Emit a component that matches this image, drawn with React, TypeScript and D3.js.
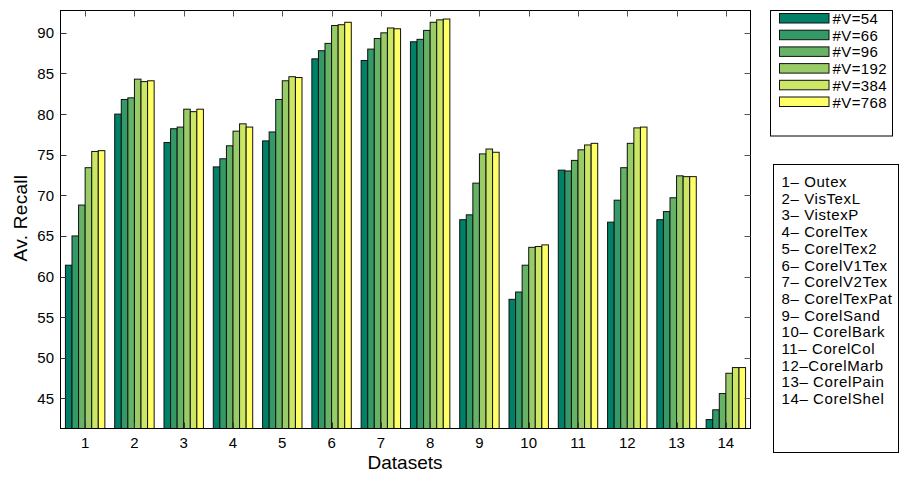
import React, { useEffect, useRef } from 'react';
import * as d3 from 'd3';

// datasets 1..14, six vocabulary sizes each
const datasets = d3.range(1, 15);
const series = ['#V=54', '#V=66', '#V=96', '#V=192', '#V=384', '#V=768'];
const colors = ['#008066', '#339966', '#66b366', '#99cc66', '#cce666', '#ffff66'];

const v54 = [61.4, 80.0, 76.5, 73.5, 76.7, 86.8, 86.6, 88.9, 67.0, 57.2, 73.1, 66.7, 67.0, 42.4];
const v66 = [65.0, 81.8, 78.2, 74.5, 77.8, 87.8, 88.0, 89.2, 67.6, 58.1, 73.0, 69.4, 68.0, 43.6];
const v96 = [68.8, 82.0, 78.4, 76.1, 81.8, 88.7, 89.3, 90.3, 71.5, 61.4, 74.3, 73.4, 69.7, 45.6];
const v192 = [73.4, 84.3, 80.6, 77.9, 84.1, 90.9, 90.0, 91.3, 75.1, 63.6, 75.6, 76.4, 72.4, 48.1];
const v384 = [75.4, 84.0, 80.3, 78.8, 84.6, 91.0, 90.6, 91.6, 75.7, 63.7, 76.2, 78.3, 72.3, 48.8];
const v768 = [75.5, 84.1, 80.6, 78.4, 84.5, 91.3, 90.5, 91.7, 75.3, 63.9, 76.4, 78.4, 72.3, 48.8];
const values = [v54, v66, v96, v192, v384, v768];

const yTicks = [45, 50, 55, 60, 65, 70, 75, 80, 85, 90];
const names = ['1\u2013 Outex', '2\u2013 VisTexL', '3\u2013 VistexP', '4\u2013 CorelTex', '5\u2013 CorelTex2',
  '6\u2013 CorelV1Tex', '7\u2013 CorelV2Tex', '8\u2013 CorelTexPat', '9\u2013 CorelSand', '10\u2013 CorelBark',
  '11\u2013 CorelCol', '12\u2013CorelMarb', '13\u2013 CorelPain', '14\u2013 CorelShel'];

const FONT = '"Liberation Sans", Arial, Helvetica, sans-serif';

export default function App() {
  const ref = useRef<SVGSVGElement>(null);

  useEffect(() => {
    const svg = d3.select(ref.current);
    svg.selectAll('*').remove();
    const left = 60.5, right = 750.5, top = 10.5, bottom = 428.5;

    const x = d3.scaleLinear().domain([0.5, 14.5]).range([left, right]);
    const y = d3.scaleLinear().domain([41.3, 92.75]).range([bottom, top]);
    const step = x(2) - x(1);
    const gw = step * 0.8;
    const inner = d3.scaleBand<number>().domain(d3.range(series.length)).range([-gw / 2, gw / 2]).padding(0);

    const g = svg.append('g');

    // bars
    values.forEach((vals, s) => {
      g.append('g').selectAll('rect').data(vals).join('rect')
        .attr('x', (d, i) => x(datasets[i]) + (inner(s) as number))
        .attr('y', d => y(d))
        .attr('width', inner.bandwidth())
        .attr('height', d => bottom - y(d))
        .attr('fill', colors[s])
        .attr('stroke', '#111')
        .attr('stroke-width', 1);
    });

    // box
    g.append('rect').attr('x', left).attr('y', top).attr('width', right - left).attr('height', bottom - top)
      .attr('fill', 'none').attr('stroke', '#000').attr('stroke-width', 1);

    const tk = 6;
    // x ticks (inside, bottom and top)
    datasets.forEach(d => {
      const px = Math.round(x(d)) + 0.5;
      g.append('line').attr('x1', px).attr('x2', px).attr('y1', bottom).attr('y2', bottom - tk).attr('stroke', '#333');
      g.append('line').attr('x1', px).attr('x2', px).attr('y1', top).attr('y2', top + tk).attr('stroke', '#555');
      g.append('text').attr('x', x(d)).attr('y', 448).attr('text-anchor', 'middle')
        .attr('font-family', FONT).attr('font-size', 15).text(d);
    });
    // y ticks
    yTicks.forEach(t => {
      const py = Math.round(y(t)) + 0.5;
      g.append('line').attr('x1', left).attr('x2', left + tk).attr('y1', py).attr('y2', py).attr('stroke', '#333');
      g.append('line').attr('x1', right).attr('x2', right - tk).attr('y1', py).attr('y2', py).attr('stroke', '#555');
      g.append('text').attr('x', 54).attr('y', y(t) + 5.5).attr('text-anchor', 'end')
        .attr('font-family', FONT).attr('font-size', 15).text(t);
    });

    g.append('text').attr('transform', `translate(26.5,218) rotate(-90)`)
      .attr('text-anchor', 'middle').attr('font-family', FONT).attr('font-size', 19)
      .attr('letter-spacing', 0.3).text('Av. Recall');
    g.append('text').attr('x', 405).attr('y', 469).attr('text-anchor', 'middle')
      .attr('font-family', FONT).attr('font-size', 19).text('Datasets');

    // series legend
    const lg = svg.append('g');
    lg.append('rect').attr('x', 770.5).attr('y', 10.5).attr('width', 122).attr('height', 125.5)
      .attr('fill', '#fff').attr('stroke', '#000');
    series.forEach((s, i) => {
      const ry = 13.5 + i * 16.7;
      lg.append('rect').attr('x', 779.5).attr('y', ry).attr('width', 49.5).attr('height', 9.5)
        .attr('fill', colors[i]).attr('stroke', '#111');
      lg.append('text').attr('x', 832.5).attr('y', ry + 10.5).attr('font-family', FONT).attr('font-size', 15)
        .attr('letter-spacing', 0.4).text(s);
    });

    // dataset names box
    const ng = svg.append('g');
    ng.append('rect').attr('x', 773.5).attr('y', 164.5).attr('width', 125).attr('height', 288)
      .attr('fill', '#fff').attr('stroke', '#000');
    names.forEach((n, i) => {
      ng.append('text').attr('x', 781.5).attr('y', 187 + i * 16.7).attr('font-family', FONT)
        .attr('font-size', 15).attr('letter-spacing', 0.6).text(n);
    });
  }, []);

  return (
    <svg ref={ref} width={900} height={477}
      style={{ position: 'absolute', left: 0, top: 0, background: '#fff' }} />
  );
}
